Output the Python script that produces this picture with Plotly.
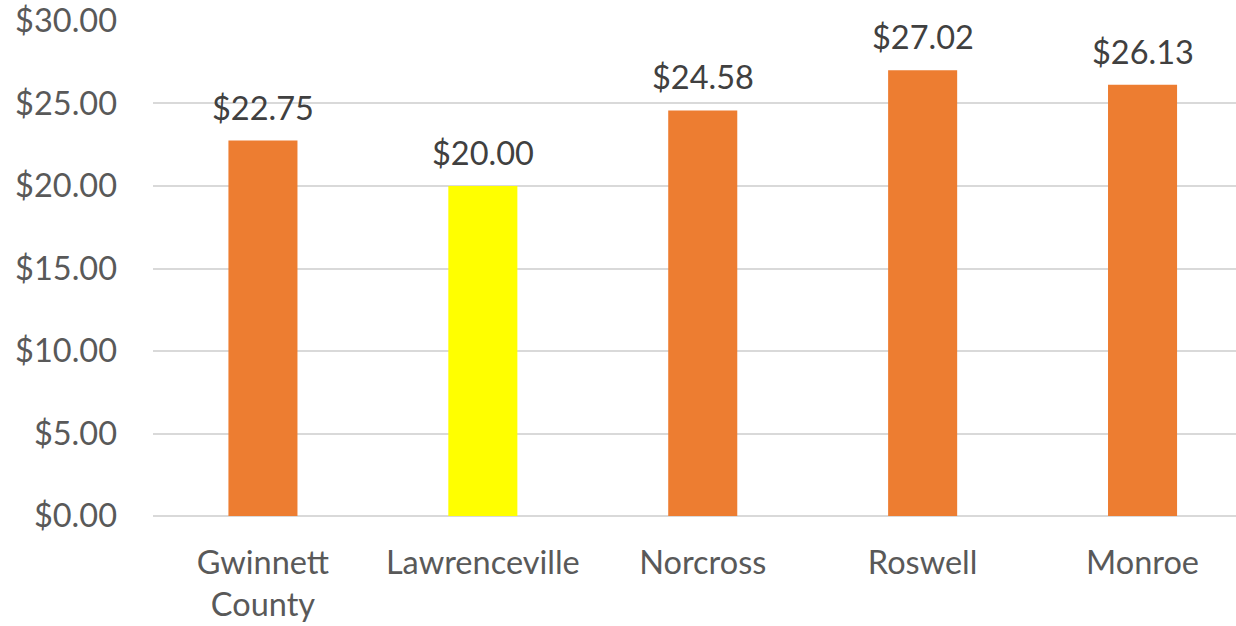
import plotly.graph_objects as go

categories = ["Gwinnett<br>County", "Lawrenceville", "Norcross", "Roswell", "Monroe"]
values = [22.75, 20.00, 24.58, 27.02, 26.13]
bar_colors = ["#ED7D31", "#FFFF00", "#ED7D31", "#ED7D31", "#ED7D31"]
y_ticks = [0, 5, 10, 15, 20, 25, 30]
y_tick_labels = ["$%.2f" % v for v in y_ticks]

FONT = "Lato"
SIZE = 32.5
fig = go.Figure()
fig.add_trace(go.Bar(
    x=list(range(len(categories))), y=values,
    marker=dict(color=bar_colors, line=dict(width=0)),
    width=0.314,
    hoverinfo="skip",
))
for i, v in enumerate(values):
    fig.add_annotation(x=i, y=v, text="$%.2f" % v, showarrow=False,
                       yanchor="bottom", yshift=12,
                       font=dict(family=FONT, size=SIZE, color="#404040"))

fig.update_layout(
    width=1236, height=626,
    margin=dict(l=153, r=0, t=20, b=110, autoexpand=False),
    paper_bgcolor="white", plot_bgcolor="white",
    showlegend=False,
    font=dict(family=FONT, size=SIZE, color="#595959"),
    xaxis=dict(
        tickmode="array", tickvals=list(range(len(categories))), ticktext=categories,
        range=[-0.5, 4.425], showgrid=False, zeroline=False, showline=False,
        ticks="", ticklabelstandoff=24, automargin=False,
        tickfont=dict(family=FONT, size=SIZE, color="#595959"),
    ),
    yaxis=dict(
        range=[0, 30.06], tickmode="array", tickvals=y_ticks, ticktext=y_tick_labels,
        showgrid=True, gridcolor="#D9D9D9", gridwidth=1.5,
        zeroline=True, zerolinecolor="#D9D9D9", zerolinewidth=1.5,
        showline=False, ticks="", ticklabelstandoff=35,
        ticklabeloverflow="allow", automargin=False,
        tickfont=dict(family=FONT, size=SIZE, color="#595959"),
    ),
)
fig.write_html("out.html", config={"displayModeBar": False},
               post_script="document.body.style.margin='0px';")
